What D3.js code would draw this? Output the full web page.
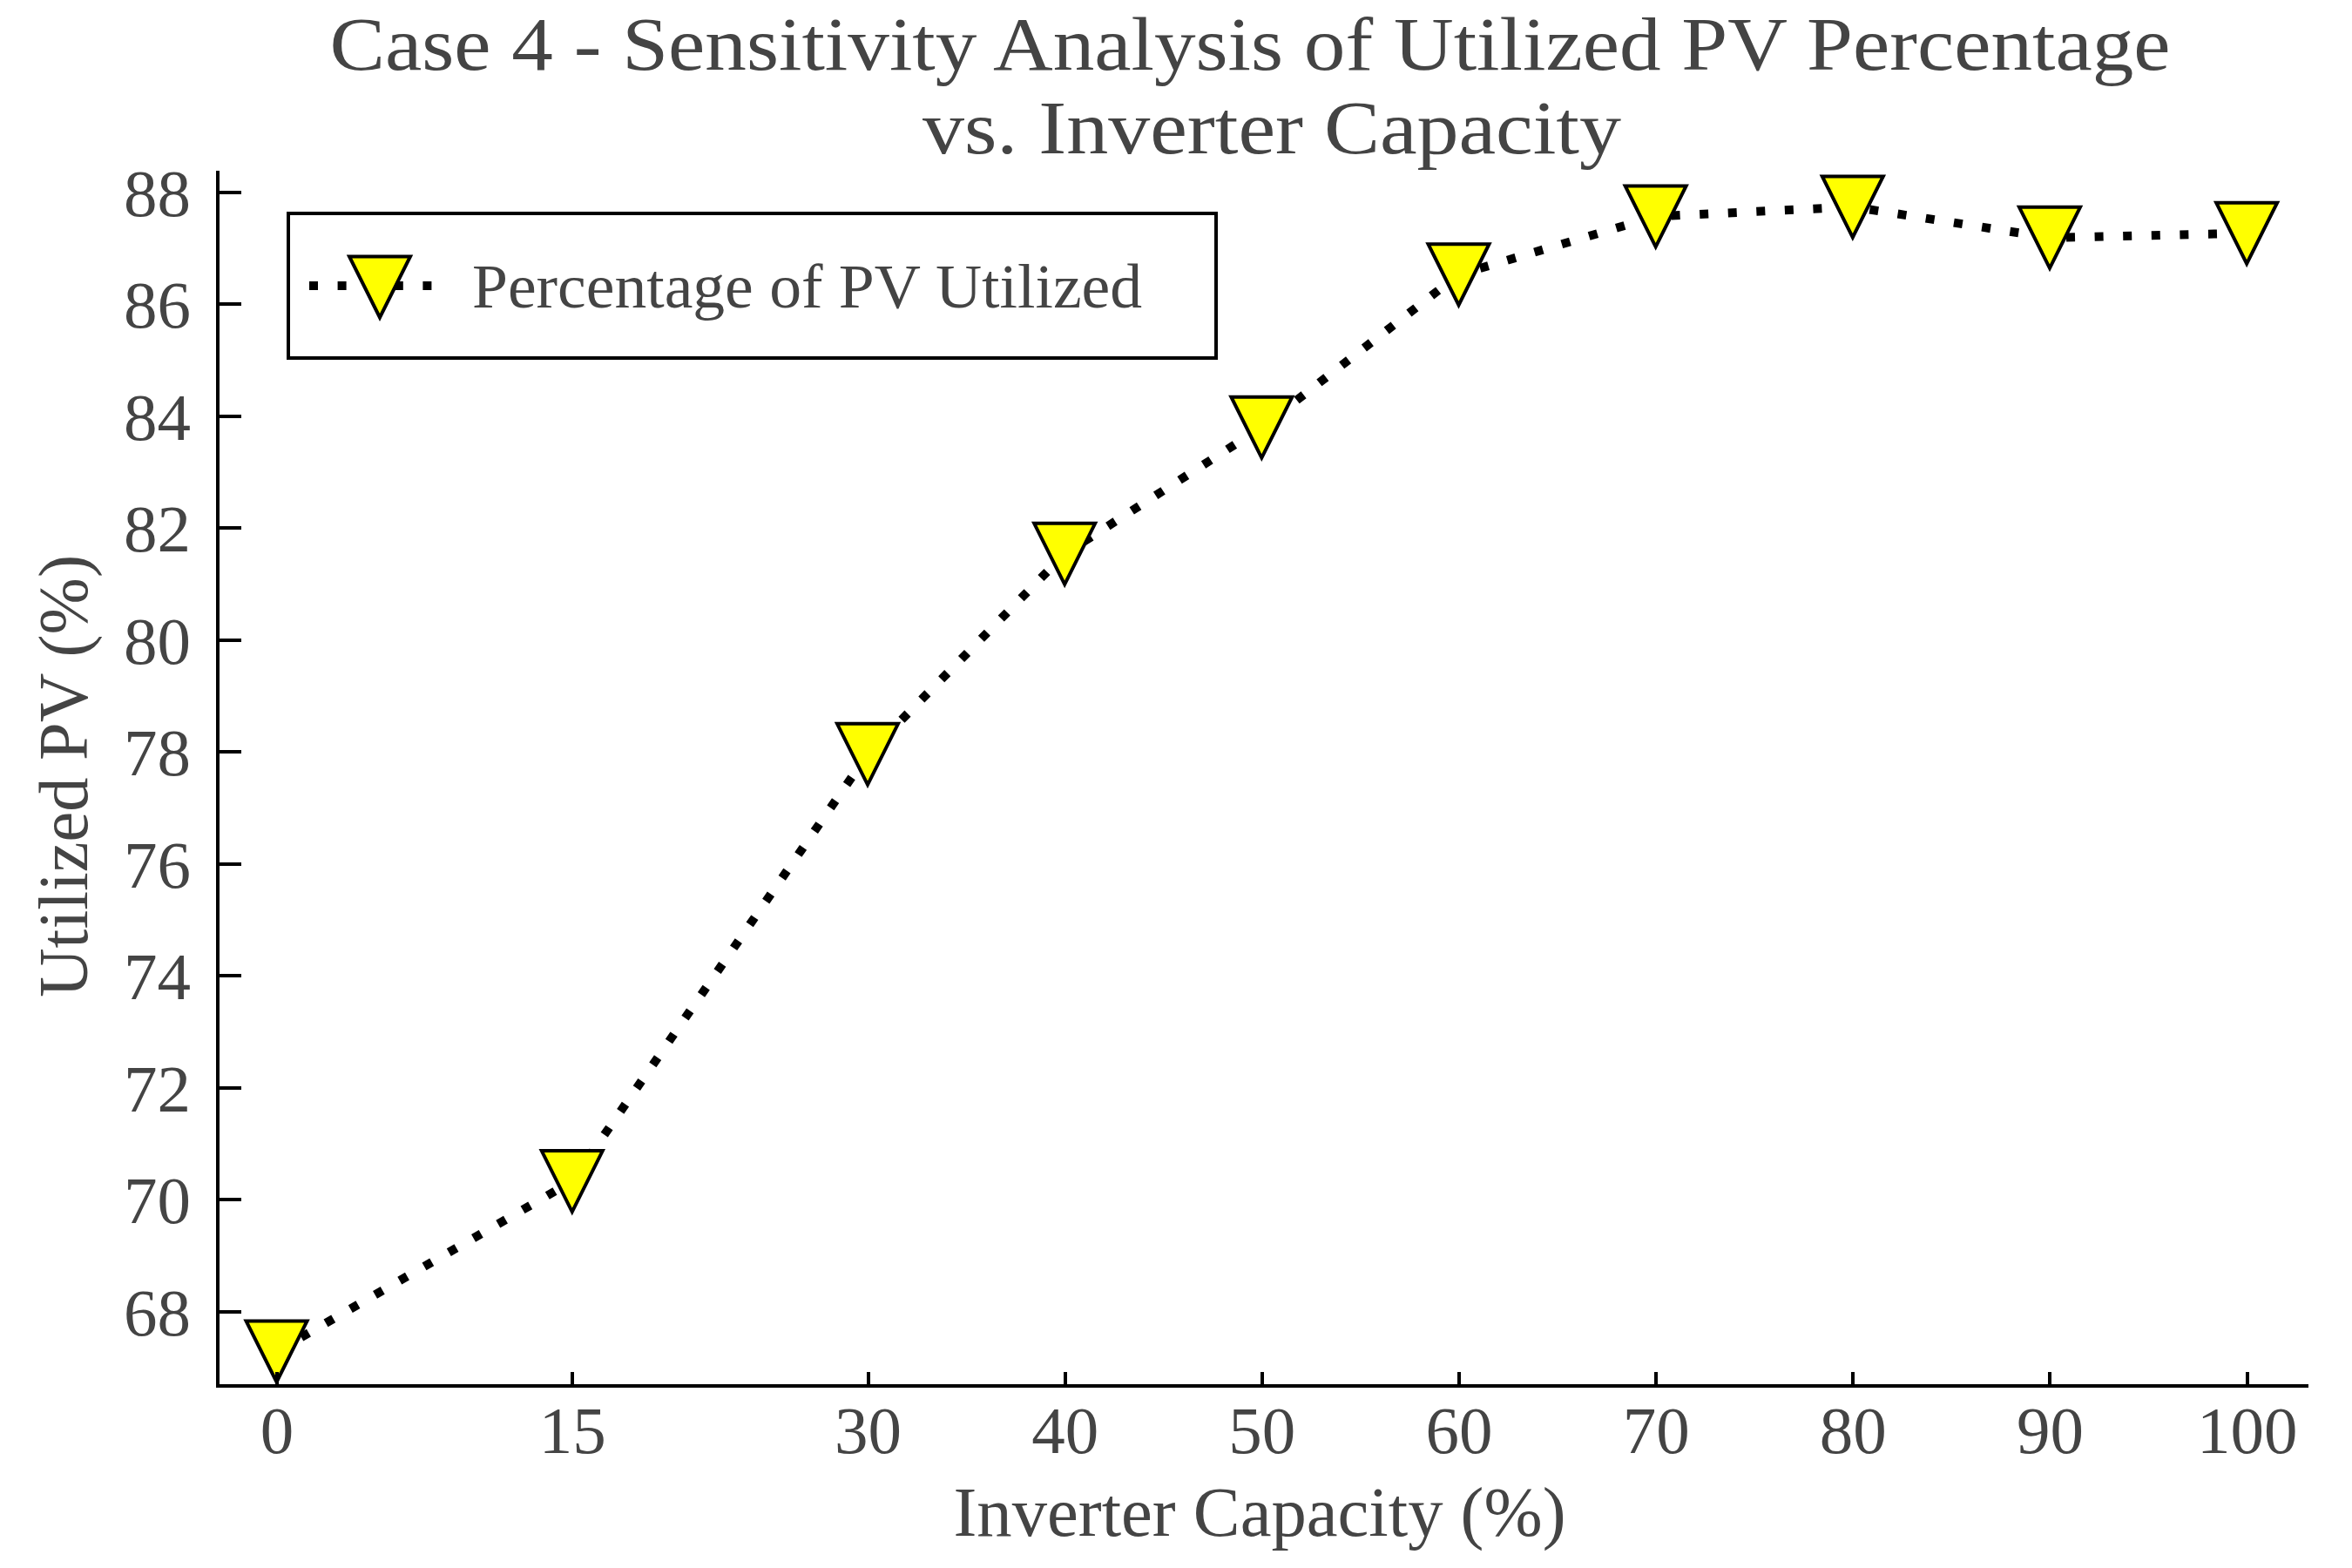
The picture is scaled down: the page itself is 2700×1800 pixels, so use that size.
<!DOCTYPE html>
<html>
<head>
<meta charset="utf-8">
<script src="https://cdn.jsdelivr.net/npm/d3@7/dist/d3.min.js"></script>
<style>
  html, body { margin: 0; padding: 0; background: #ffffff; }
  svg { display: block; }
  text { font-family: "Liberation Serif", "DejaVu Serif", serif; fill: #444444; }
</style>
</head>
<body>
<svg id="chart" width="2700" height="1800"></svg>
<script>
// ---- data ----
const inverterCapacity = [0, 15, 30, 40, 50, 60, 70, 80, 90, 100];
const pvUtilized = [67.28, 70.32, 77.95, 81.53, 83.79, 86.52, 87.56, 87.73, 87.18, 87.26];
const xTickValues = [0, 15, 30, 40, 50, 60, 70, 80, 90, 100];
const yTickValues = [68, 70, 72, 74, 76, 78, 80, 82, 84, 86, 88];
const titleLines = ["Case 4 - Sensitivity Analysis of Utilized PV Percentage", "vs. Inverter Capacity"];
const xLabel = "Inverter Capacity (%)";
const yLabel = "Utilized PV (%)";
const seriesName = "Percentage of PV Utilized";

const svg = d3.select("#chart");
svg.append("rect").attr("width", 2700).attr("height", 1800).attr("fill", "#fff");

const x = d3.scaleLinear().domain([-3.03, 103.0]).range([249, 2647]);
const y = d3.scaleLinear().domain([66.68, 88.36]).range([1590, 197]);

const AXIS_W = 4;

// ---- line ----
const line = d3.line().x((d, i) => x(inverterCapacity[i])).y(d => y(d));
svg.append("path")
  .datum(pvUtilized)
  .attr("d", line)
  .attr("fill", "none")
  .attr("stroke", "#000")
  .attr("stroke-width", 10)
  .attr("stroke-dasharray", "10,22.6")
  .attr("stroke-linecap", "butt");

// ---- markers ----
const H = 35;
const tri = `M${-H},${-H}L${H},${-H}L0,${H}Z`;
svg.append("g").selectAll("path")
  .data(pvUtilized)
  .join("path")
  .attr("d", tri)
  .attr("transform", (d, i) => `translate(${x(inverterCapacity[i])},${y(d)})`)
  .attr("fill", "#ffff00")
  .attr("stroke", "#000")
  .attr("stroke-width", 4)
  .attr("stroke-linejoin", "miter");

// ---- axes ----
const yAxis = d3.axisLeft(y).tickValues(yTickValues).tickSizeInner(-28).tickSizeOuter(0).tickPadding(30).tickFormat(d3.format("d"));
const gy = svg.append("g").attr("transform", `translate(${x.range()[0]},0)`).call(yAxis);
gy.select(".domain").attr("stroke", "#000").attr("stroke-width", AXIS_W).attr("stroke-linecap", "square");
gy.selectAll(".tick line").attr("stroke", "#000").attr("stroke-width", AXIS_W);
gy.selectAll(".tick text")
  .attr("font-family", "Liberation Serif, DejaVu Serif, serif")
  .attr("font-size", 77).attr("fill", "#444").attr("dy", 27);

const xAxis = d3.axisBottom(x).tickValues(xTickValues).tickSizeInner(-15).tickSizeOuter(0).tickPadding(0).tickFormat(d3.format("d"));
const gx = svg.append("g").attr("transform", `translate(0,${y.range()[0]})`).call(xAxis);
gx.select(".domain").attr("stroke", "#000").attr("stroke-width", AXIS_W).attr("stroke-linecap", "square");
gx.selectAll(".tick line").attr("stroke", "#000").attr("stroke-width", AXIS_W);
gx.selectAll(".tick text")
  .attr("font-family", "Liberation Serif, DejaVu Serif, serif")
  .attr("font-size", 77).attr("fill", "#444").attr("y", 78).attr("dy", 0);
svg.selectAll(".domain, .tick line").attr("shape-rendering", "crispEdges");

// ---- title ----
const titlePos = [{cx: 1435, base: 80, w: 2113}, {cx: 1460, base: 176, w: 802}];
titleLines.forEach((t, i) => {
  svg.append("text")
    .attr("x", titlePos[i].cx).attr("y", titlePos[i].base)
    .attr("text-anchor", "middle")
    .attr("font-size", 86)
    .attr("textLength", titlePos[i].w).attr("lengthAdjust", "spacingAndGlyphs")
    .text(t);
});

// ---- axis labels ----
svg.append("text")
  .attr("x", 1446).attr("y", 1763)
  .attr("text-anchor", "middle")
  .attr("font-size", 80)
  .attr("textLength", 703).attr("lengthAdjust", "spacingAndGlyphs")
  .text(xLabel);

svg.append("text")
  .attr("transform", `translate(100,891) rotate(-90)`)
  .attr("text-anchor", "middle")
  .attr("font-size", 80)
  .attr("textLength", 508).attr("lengthAdjust", "spacingAndGlyphs")
  .text(yLabel);

// ---- legend ----
const lg = svg.append("g");
lg.append("rect")
  .attr("x", 331).attr("y", 245).attr("width", 1065).attr("height", 166)
  .attr("fill", "#fff").attr("stroke", "#000").attr("stroke-width", 4);
lg.append("line")
  .attr("x1", 355).attr("x2", 508).attr("y1", 328).attr("y2", 328)
  .attr("stroke", "#000").attr("stroke-width", 10)
  .attr("stroke-dasharray", "10,22.6");
lg.append("path")
  .attr("d", tri)
  .attr("transform", "translate(436,329.5)")
  .attr("fill", "#ffff00").attr("stroke", "#000").attr("stroke-width", 4);
lg.append("text")
  .attr("x", 542).attr("y", 353)
  .attr("font-size", 72)
  .attr("textLength", 769).attr("lengthAdjust", "spacingAndGlyphs")
  .text(seriesName);
</script>
</body>
</html>
